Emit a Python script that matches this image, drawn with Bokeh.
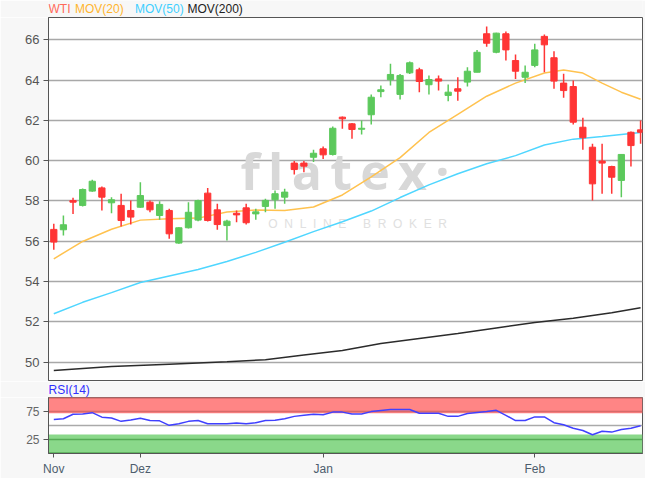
from bokeh.plotting import figure
from bokeh.models import ColumnDataSource, Label, FixedTicker, BoxAnnotation, Span, Range1d
from bokeh.layouts import column
from bokeh.core.properties import value
from bokeh.embed import file_html
from bokeh.resources import INLINE

# ---------------- data ----------------
opens = [56.59, 56.57, 58.02, 57.78, 58.49, 58.65, 57.91, 57.78, 57.53, 57.69,
         57.94, 57.28, 57.53, 55.91, 56.67, 57.05, 58.39, 57.56, 56.78, 57.39,
         57.66, 57.36, 57.73, 58.06, 58.19, 59.88, 59.88, 60.17, 60.59, 60.31,
         62.16, 61.83, 61.56, 62.28, 63.43, 64.02, 63.29, 64.36, 64.51, 63.77,
         64.06, 63.24, 63.57, 63.90, 64.39, 66.30, 65.38, 66.30, 64.97, 64.14,
         64.73, 66.17, 65.11, 63.85, 63.68, 61.66, 60.67, 59.98, 59.71, 59.02,
         61.41, 61.53]
highs = [56.87, 57.28, 58.16, 58.62, 59.05, 58.72, 58.19, 58.36, 58.02, 58.93,
         58.02, 57.99, 57.61, 56.70, 57.94, 58.06, 58.65, 57.86, 57.07, 57.53,
         57.86, 57.61, 58.11, 58.52, 58.61, 59.98, 59.98, 60.54, 60.71, 61.70,
         62.19, 61.87, 62.00, 63.29, 63.73, 64.81, 64.30, 64.92, 64.61, 64.23,
         64.23, 63.78, 64.14, 64.64, 65.50, 66.66, 66.35, 66.41, 65.27, 64.73,
         65.80, 66.26, 65.43, 64.31, 63.98, 62.13, 60.84, 60.84, 59.75, 60.31,
         61.45, 62.00]
lows = [55.58, 56.29, 57.36, 57.73, 58.46, 57.53, 57.39, 56.73, 56.83, 57.66,
        57.44, 57.07, 56.12, 55.88, 56.64, 57.00, 56.98, 56.57, 56.04, 56.95,
        56.83, 57.07, 57.44, 57.61, 57.86, 59.32, 59.43, 59.93, 60.09, 60.26,
        61.58, 61.09, 61.30, 61.79, 63.15, 63.73, 63.04, 64.30, 63.40, 63.29,
        63.48, 62.95, 62.97, 63.68, 64.39, 65.65, 65.33, 64.97, 64.06, 63.85,
        64.64, 64.39, 63.57, 63.12, 61.79, 60.54, 58.02, 58.36, 58.36, 58.19,
        59.71, 60.84]
closes = [55.96, 56.82, 57.94, 58.57, 58.98, 58.19, 58.06, 57.03, 57.20, 58.27,
          57.56, 57.83, 56.37, 56.67, 57.44, 58.02, 57.03, 56.83, 57.00, 57.31,
          56.92, 57.46, 58.03, 58.36, 58.44, 59.56, 59.73, 60.37, 60.29, 61.61,
          62.08, 61.55, 61.61, 63.15, 63.52, 64.28, 64.23, 64.86, 63.93, 64.03,
          63.95, 63.40, 63.45, 64.44, 65.38, 65.83, 66.33, 65.50, 64.44, 64.39,
          65.50, 65.75, 63.95, 63.48, 61.91, 61.14, 58.85, 59.88, 59.18, 60.31,
          60.75, 61.41]

ma20_x = [0, 3, 6, 9, 12, 15, 18, 21, 24, 27, 30, 33, 36, 39, 42, 45, 48, 51, 53, 55, 57, 59, 61]
ma20_y = [55.13, 55.99, 56.60, 57.05, 57.12, 57.15, 57.45, 57.55, 57.53, 57.70, 58.30, 59.20,
          60.15, 61.40, 62.30, 63.20, 63.85, 64.35, 64.50, 64.35, 63.85, 63.40, 63.05]
ma50_x = [0, 3, 6, 9, 12, 15, 18, 21, 24, 27, 30, 33, 36, 39, 42, 45, 48, 51, 54, 57, 61]
ma50_y = [52.40, 52.97, 53.45, 53.95, 54.28, 54.60, 55.00, 55.45, 55.95, 56.48, 56.97, 57.50,
          58.17, 58.80, 59.35, 59.85, 60.25, 60.78, 61.07, 61.20, 61.40]
ma200_x = [0, 6, 12, 18, 22, 26, 30, 34, 38, 42, 46, 50, 54, 58, 61]
ma200_y = [49.59, 49.78, 49.90, 50.02, 50.12, 50.35, 50.58, 50.93, 51.18, 51.42, 51.70, 51.97,
           52.18, 52.45, 52.70]

rsi = [60.7, 62.1, 70.1, 70.6, 72.9, 64.9, 63.5, 57.4, 59.7, 63.0,
       58.8, 58.3, 50.3, 53.2, 57.4, 58.8, 53.2, 53.2, 53.2, 54.6,
       53.2, 55.1, 58.8, 59.3, 62.1, 66.3, 68.2, 70.1, 69.2, 73.9,
       73.9, 70.6, 70.6, 74.8, 76.7, 78.6, 78.6, 78.6, 72.0, 72.0,
       72.0, 66.3, 66.3, 71.5, 73.4, 74.8, 77.1, 68.2, 58.8, 58.8,
       65.4, 65.4, 55.1, 51.3, 45.2, 41.0, 33.4, 39.6, 38.2, 42.8,
       45.2, 49.4]

price_ticks = [50, 52, 54, 56, 58, 60, 62, 64, 66]
rsi_ticks = [25, 75]
month_ticks = [0, 9, 28, 50]
month_labels = ["Nov", "Dez", "Jan", "Feb"]
legend_names = ["WTI", "MOV(20)", "MOV(50)", "MOV(200)"]
rsi_title = ["RSI(14)"]

# ---------------- styles ----------------
FONT = "Liberation Sans"
BG = "#f7f7f7"
GREEN = "#5cc95c"
RED = "#ff3535"
C20 = "#ffc24f"
C50 = "#4fd6ff"
C200 = "#2b2b2b"
legend_colors = ["#ff6a5a", "#ffb52e", "#3fcfff", "#222222"]
legend_px = [48, 74.5, 134.5, 187]   # page x of the legend words
NB = "\u00a0"
W = 645
FRAME_L, FRAME_R = 48, 3


def strip(height, xs, mid, texts, colors, size):
    # the column aligns frames, so the frame spans page x 48..642
    s = figure(width=W, height=height, x_range=Range1d(FRAME_L, W - FRAME_R),
               y_range=Range1d(0, height),
               output_backend="svg", toolbar_location=None,
               min_border_left=FRAME_L, min_border_right=FRAME_R,
               min_border_top=0, min_border_bottom=0,
               background_fill_color=BG, border_fill_color=BG, outline_line_color=None)
    s.xaxis.visible = False
    s.yaxis.visible = False
    s.xgrid.visible = False
    s.ygrid.visible = False
    s.text(x="x", y="y", text="t", text_color="c",
           source=ColumnDataSource(dict(x=xs, y=[mid] * len(xs), t=texts, c=colors)),
           text_font=value(FONT), text_font_size=value(size), text_baseline="middle")
    return s


legend_strip = strip(17, legend_px, 8.5, legend_names, legend_colors, "12px")

idx = list(range(len(opens)))
colors = [GREEN if c >= o else RED for o, c in zip(opens, closes)]
src = ColumnDataSource(dict(
    x=idx, high=highs, low=lows,
    top=[max(o, c) for o, c in zip(opens, closes)],
    bottom=[min(o, c) for o, c in zip(opens, closes)],
    color=colors))

xr = Range1d(-0.55, 61.2)

p = figure(width=W, height=364, x_range=xr, y_range=Range1d(49.09, 67.107),
           output_backend="svg", toolbar_location=None,
           min_border_left=FRAME_L, min_border_right=FRAME_R, min_border_top=0, min_border_bottom=1,
           background_fill_color="white", border_fill_color=BG,
           outline_line_color="#555555", outline_line_width=1)
p.xaxis.visible = False
p.xgrid.visible = False
p.ygrid.grid_line_color = "#a8a8a8"
p.ygrid.grid_line_width = 1.5
p.yaxis.ticker = FixedTicker(ticks=price_ticks)
p.yaxis.axis_line_color = "#555555"
p.yaxis.major_tick_line_color = "#555555"
p.yaxis.major_tick_out = 5
p.yaxis.major_tick_in = 0
p.yaxis.minor_tick_line_color = None
p.yaxis.major_label_text_font = FONT
p.yaxis.major_label_text_font_size = "13px"
p.yaxis.major_label_text_color = "#555555"
p.yaxis.major_label_standoff = 4

# watermark
p.add_layout(Label(x=19.4, y=57.8, text="f\u2009l\u2009a\u2009t\u2009e\u2009x\u2009\u00b7",
                   text_font="Open Sans", text_font_style="bold", text_font_size="50px",
                   text_color="#d8d8d8", level="underlay"))
p.add_layout(Label(x=22.3, y=56.5,
                   text=(NB * 2).join("ONLINE") + NB * 5 + (NB * 2).join("BROKER"),
                   text_font=FONT, text_font_size="12px", text_color="#e0e0e0",
                   level="underlay"))

p.line(ma200_x, ma200_y, line_color=C200, line_width=1.5)
p.line(ma50_x, ma50_y, line_color=C50, line_width=1.5)
p.line(ma20_x, ma20_y, line_color=C20, line_width=1.5)

p.segment(x0="x", y0="high", x1="x", y1="low", line_color="color", line_width=1.5, source=src)
p.vbar(x="x", width=0.65, top="top", bottom="bottom", fill_color="color",
       line_color="color", line_width=1, source=src)

rsi_strip = strip(16, [48], 8, rsi_title, ["#3030ff"], "12px")

# ---------------- RSI panel ----------------
p2 = figure(width=W, height=81, x_range=xr, y_range=Range1d(0, 100),
            output_backend="svg", toolbar_location=None,
            min_border_left=FRAME_L, min_border_right=FRAME_R, min_border_top=0, min_border_bottom=25,
            background_fill_color="white", border_fill_color=BG,
            outline_line_color="#555555", outline_line_width=1)
p2.xgrid.visible = False
p2.ygrid.visible = False
p2.add_layout(BoxAnnotation(bottom=72, top=100, fill_color="#ff8585", fill_alpha=1,
                            line_color=None, level="underlay"))
p2.add_layout(BoxAnnotation(bottom=0, top=34, fill_color="#8ad88a", fill_alpha=1,
                            line_color=None, level="underlay"))
p2.add_layout(Span(location=75, dimension="width", line_color="#d86a6a", line_width=1.5, level="underlay"))
p2.add_layout(Span(location=99, dimension="width", line_color="#d86a6a", line_width=1.5, level="underlay"))
p2.add_layout(Span(location=25, dimension="width", line_color="#55aa55", line_width=1.5, level="underlay"))
p2.add_layout(Span(location=1, dimension="width", line_color="#55aa55", line_width=1.5, level="underlay"))
p2.add_layout(Span(location=50, dimension="width", line_color="#aaaaaa", line_width=1.5, level="underlay"))
p2.line(idx, rsi, line_color="#4040ff", line_width=1.5)

p2.yaxis.ticker = FixedTicker(ticks=rsi_ticks)
p2.yaxis.axis_line_color = "#555555"
p2.yaxis.major_tick_line_color = "#555555"
p2.yaxis.major_tick_out = 5
p2.yaxis.major_tick_in = 0
p2.yaxis.minor_tick_line_color = None
p2.yaxis.major_label_text_font = FONT
p2.yaxis.major_label_text_font_size = "12px"
p2.yaxis.major_label_text_color = "#666666"
p2.yaxis.major_label_standoff = 4

p2.xaxis.ticker = FixedTicker(ticks=month_ticks)
p2.xaxis.major_label_overrides = {t: l for t, l in zip(month_ticks, month_labels)}
p2.xaxis.axis_line_color = "#555555"
p2.xaxis.major_tick_line_color = "#555555"
p2.xaxis.major_tick_out = 4
p2.xaxis.major_tick_in = 0
p2.xaxis.minor_tick_line_color = None
p2.xaxis.major_label_text_font = FONT
p2.xaxis.major_label_text_font_size = "12px"
p2.xaxis.major_label_text_color = "#4d5d6d"
p2.xaxis.major_label_text_align = "left"
p2.xaxis.major_label_standoff = 4

layout = column(legend_strip, p, rsi_strip, p2, spacing=0)
open("out.html", "w").write(file_html(layout, INLINE))
